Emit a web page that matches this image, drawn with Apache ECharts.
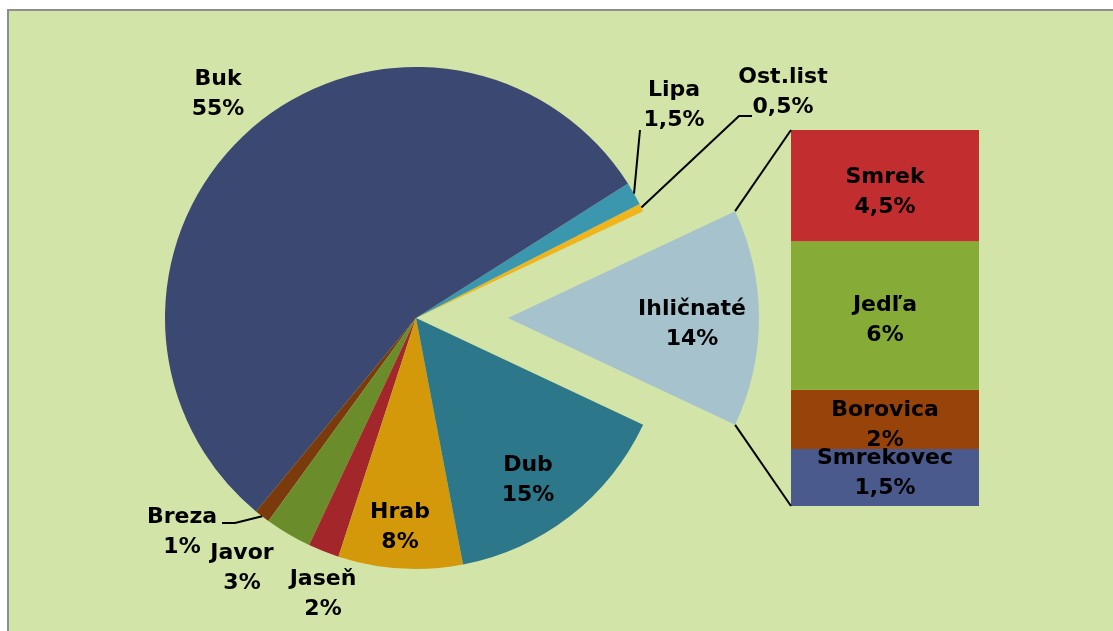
<!DOCTYPE html>
<html>
<head>
<meta charset="utf-8">
<script src="https://cdn.jsdelivr.net/npm/echarts@6/dist/echarts.min.js"></script>
<style>
	html, body { margin: 0; padding: 0; background: #fff; overflow: hidden; }
	#frame { position: absolute; left: 7px; top: 9px; width: 1200px; height: 700px; background: #d2e4a8; border: 2px solid #8e8e8e; box-sizing: border-box; }
	#chart { position: absolute; left: 0; top: 0; width: 1113px; height: 631px; }
</style>
</head>
<body>
<div id="frame"></div>
<div id="chart"></div>
<script>
	// podiel drevín (kruh), poradie proti smeru hodinových ručičiek
	var pieNames = ["Ost.list", "Lipa", "Buk", "Breza", "Javor", "Jaseň", "Hrab", "Dub", "Ihličnaté"];
	var pieValues = [0.5, 1.5, 55, 1, 3, 2, 8, 15, 14];

	// rozpad ihličnatých (stĺpec), odčítané z výšky stĺpca
	var coniferNames = ["Smrek", "Jedľa", "Borovica", "Smrekovec"];
	var coniferShare = [4.5, 6, 2.4, 2.3];
	var coniferLabels = ["4,5%", "6%", "2%", "1,5%"];

	var colors = {
		"Ost.list": "#f0b41c", "Lipa": "#3b97ae", "Buk": "#3a4872", "Breza": "#7b3a0c",
		"Javor": "#6b8c2a", "Jaseň": "#a3262b", "Hrab": "#d4990a", "Dub": "#2c7789",
		"Ihličnaté": "#a6c2cd", "Smrek": "#c22d2f", "Jedľa": "#86ab37",
		"Borovica": "#974309", "Smrekovec": "#4a5a8c"
	};

	var pieCenter = [416, 318];
	var pieRadius = 251;
	var explode = 92;
	var barGrid = { left: 791, top: 130, width: 188, height: 376 };
	var font = { color: "#000", fontSize: 22, fontWeight: "bold", fontFamily: "DejaVu Sans", lineHeight: 30 };

	// stredy popisov
	var labelPos = {
		"Buk": [218, 94], "Lipa": [674, 105], "Ost.list": [783, 92], "Breza": [182, 532],
		"Javor": [242, 568], "Jaseň": [323, 594], "Hrab": [400, 527], "Dub": [528, 480],
		"Ihličnaté": [692, 324]
	};
	// ďalšie body odkazových čiar
	var leaderPts = {
		"Lipa": [[640, 130]],
		"Ost.list": [[739, 116], [752, 116]],
		"Breza": [[235, 523], [222, 523]]
	};
	var barLabelOffset = { "Smrek": 7, "Jedľa": 5, "Borovica": 6, "Smrekovec": -4 };

	var pieTotal = pieValues.reduce(function (a, b) { return a + b; }, 0);
	var ihlIndex = pieNames.indexOf("Ihličnaté");
	var startAngle = pieValues[ihlIndex] / pieTotal * 180;
	var coniferTotal = coniferShare.reduce(function (a, b) { return a + b; }, 0);

	function midAngle(i) {
		var before = 0;
		for (var k = 0; k < i; k++) before += pieValues[k];
		return startAngle + (before + pieValues[i] / 2) / pieTotal * 360;
	}
	function polar(c, r, deg) {
		var a = deg * Math.PI / 180;
		return [c[0] + r * Math.cos(a), c[1] - r * Math.sin(a)];
	}

	var ihlMid = midAngle(ihlIndex);
	var explodedCenter = polar(pieCenter, explode, ihlMid);

	// jeden kruh pre zvyšok, druhý (posunutý) len pre ihličnaté
	function pieSeries(center, visible) {
		return {
			type: "pie",
			center: center,
			radius: pieRadius,
			startAngle: startAngle,
			clockwise: false,
			avoidLabelOverlap: false,
			silent: true,
			itemStyle: { borderWidth: 0 },
			label: Object.assign({
				show: true,
				position: "outside",
				formatter: function (p) { return p.name + "\n" + String(p.value).replace(".", ",") + "%"; }
			}, font),
			labelLine: { show: false },
			labelLayout: function (p) {
				var pos = labelPos[pieNames[p.dataIndex]];
				return { x: pos[0], y: pos[1], align: "center", verticalAlign: "middle" };
			},
			data: pieNames.map(function (n, i) {
				var on = visible(i);
				return {
					name: n, value: pieValues[i],
					itemStyle: { color: on ? colors[n] : "transparent" },
					label: { show: on }
				};
			})
		};
	}

	var series = [
		pieSeries(pieCenter, function (i) { return i !== ihlIndex; }),
		pieSeries(explodedCenter, function (i) { return i === ihlIndex; })
	];

	for (var i = coniferNames.length - 1; i >= 0; i--) {
		(function (i) {
			var n = coniferNames[i];
			series.push({
				type: "bar",
				name: n,
				stack: "ihl",
				barWidth: "100%",
				silent: true,
				itemStyle: { color: colors[n] },
				label: Object.assign({
					show: true,
					position: "inside",
					offset: [0, barLabelOffset[n]],
					formatter: n + "\n" + coniferLabels[i]
				}, font),
				data: [coniferShare[i]]
			});
		})(i);
	}

	var chart = echarts.init(document.getElementById("chart"));
	chart.setOption({
		animation: false,
		backgroundColor: "transparent",
		grid: barGrid,
		xAxis: { type: "category", data: ["Ihličnaté"], show: false },
		yAxis: { type: "value", min: 0, max: coniferTotal, show: false },
		series: series
	});

	// spojovacie a odkazové čiary
	var lineStyle = { stroke: "#000", lineWidth: 2, fill: null };
	var graphics = [];
	var half = pieValues[ihlIndex] / pieTotal * 180;
	var topCorner = polar(explodedCenter, pieRadius, ihlMid + half);
	var botCorner = polar(explodedCenter, pieRadius, ihlMid - half);
	var barTop = chart.convertToPixel({ seriesIndex: 2 }, [0, coniferTotal]);
	var barBot = chart.convertToPixel({ seriesIndex: 2 }, [0, 0]);
	var barLeft = barTop[0] - barGrid.width / 2;
	graphics.push({ type: "polyline", z: 10, shape: { points: [topCorner, [barLeft, barTop[1]]] }, style: lineStyle });
	graphics.push({ type: "polyline", z: 10, shape: { points: [botCorner, [barLeft, barBot[1]]] }, style: lineStyle });
	Object.keys(leaderPts).forEach(function (n) {
		var start = polar(pieCenter, pieRadius, midAngle(pieNames.indexOf(n)));
		graphics.push({ type: "polyline", z: 10, shape: { points: [start].concat(leaderPts[n]) }, style: lineStyle });
	});
	chart.setOption({ graphic: graphics });
</script>
</body>
</html>
